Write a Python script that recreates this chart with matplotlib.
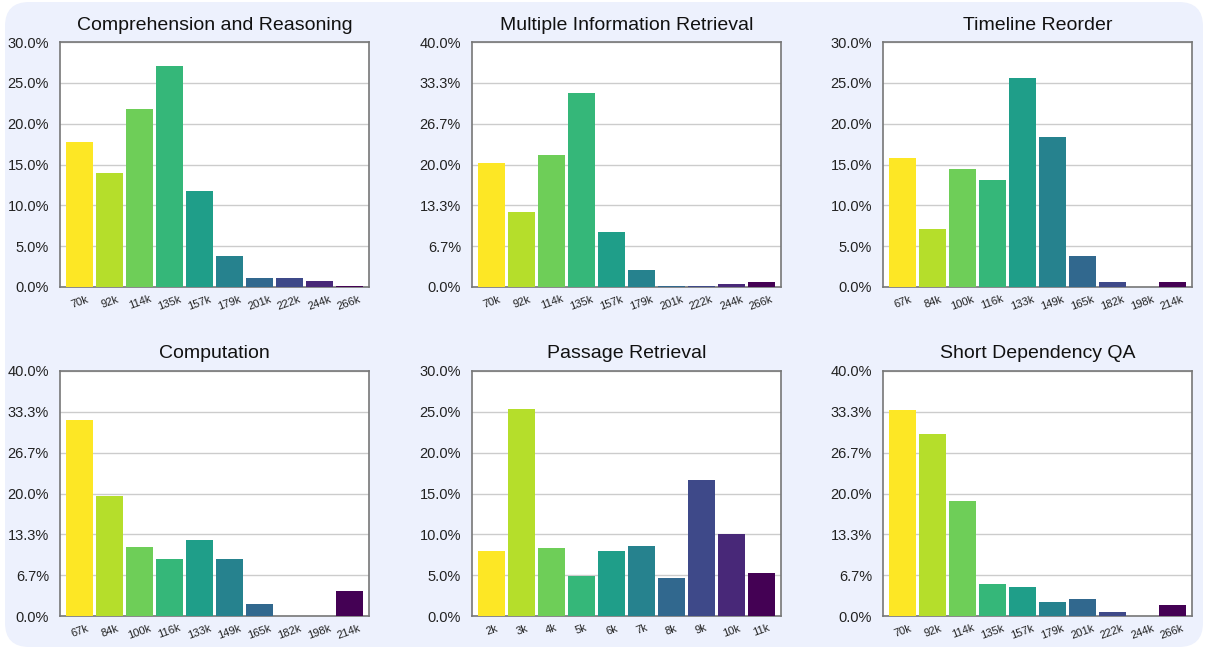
import matplotlib
matplotlib.use("Agg")
import matplotlib.pyplot as plt
import numpy as np
from matplotlib.patches import FancyBboxPatch

plt.rcParams['font.family'] = ['Liberation Sans', 'DejaVu Sans']

# Dane (udział w %)
titles = ['Comprehension and Reasoning', 'Multiple Information Retrieval', 'Timeline Reorder',
          'Computation', 'Passage Retrieval', 'Short Dependency QA']

labels_a = ['70k', '92k', '114k', '135k', '157k', '179k', '201k', '222k', '244k', '266k']
labels_b = ['67k', '84k', '100k', '116k', '133k', '149k', '165k', '182k', '198k', '214k']
labels_c = ['2k', '3k', '4k', '5k', '6k', '7k', '8k', '9k', '10k', '11k']

comprehension = [17.8, 13.9, 21.8, 27.1, 11.7, 3.8, 1.1, 1.1, 0.75, 0.15]
multiple_info = [20.2, 12.3, 21.6, 31.6, 9.0, 2.8, 0.15, 0.1, 0.45, 0.8]
timeline = [15.8, 7.15, 14.4, 13.15, 25.6, 18.4, 3.8, 0.6, 0.0, 0.6]
computation = [32.0, 19.6, 11.3, 9.3, 12.4, 9.3, 2.0, 0.0, 0.0, 4.15]
passage = [8.0, 25.4, 8.35, 4.95, 8.0, 8.6, 4.6, 16.7, 10.0, 5.3]
short_qa = [33.6, 29.75, 18.7, 5.25, 4.8, 2.35, 2.85, 0.65, 0.0, 1.75]

series = [comprehension, multiple_info, timeline, computation, passage, short_qa]
xlabels = [labels_a, labels_a, labels_b, labels_b, labels_c, labels_a]
ymaxes = [30, 40, 30, 40, 30, 40]

colors = plt.cm.viridis(np.linspace(0, 1, 10))[::-1]

fig = plt.figure(figsize=(12.07, 6.5), dpi=100)
fig.patch.set_facecolor('white')

# tło - zaokrąglony panel
bg = FancyBboxPatch((5 / 1207, 3 / 650), 1198 / 1207, 645 / 650,
                    boxstyle='round,pad=0,rounding_size=0.02', transform=fig.transFigure,
                    facecolor='#edf1fd', edgecolor='none', zorder=-1, mutation_aspect=1207 / 650)
fig.patches.append(bg)

lefts = [60, 472, 883]
tops = [42, 371]
w_px, h_px = 309, 245

for i in range(6):
    r, c = divmod(i, 3)
    l = lefts[c] / 1207
    b = 1 - (tops[r] + h_px) / 650
    ax = fig.add_axes([l, b, w_px / 1207, h_px / 650])
    ax.set_zorder(1)
    ax.set_facecolor('white')
    x = np.arange(10)
    ax.bar(x, series[i], width=0.9, color=colors, zorder=3)
    ax.set_xlim(-0.66, 9.66)
    ymax = ymaxes[i]
    ax.set_ylim(0, ymax)
    if ymax == 30:
        yt = [0, 5, 10, 15, 20, 25, 30]
        ylab = [f'{v:.1f}%' for v in yt]
    else:
        yt = [0, 40 / 6, 80 / 6, 20, 160 / 6, 200 / 6, 40]
        ylab = ['0.0%', '6.7%', '13.3%', '20.0%', '26.7%', '33.3%', '40.0%']
    ax.set_yticks(yt)
    ax.set_yticklabels(ylab, fontsize=10.5, color='#222222')
    ax.set_xticks(x)
    ax.set_xticklabels(xlabels[i], fontsize=8, rotation=20, color='#222222')
    ax.tick_params(axis='x', length=0, pad=5)
    ax.tick_params(axis='y', length=0, pad=8)
    ax.yaxis.grid(True, color='#cccccc', linewidth=1, zorder=0)
    ax.set_axisbelow(True)
    for s in ax.spines.values():
        s.set_color('#777777')
        s.set_linewidth(1.2)
    ax.set_title(titles[i], fontsize=14, color='#111111', pad=9)

fig.savefig('out.png', dpi=100, facecolor='white')
